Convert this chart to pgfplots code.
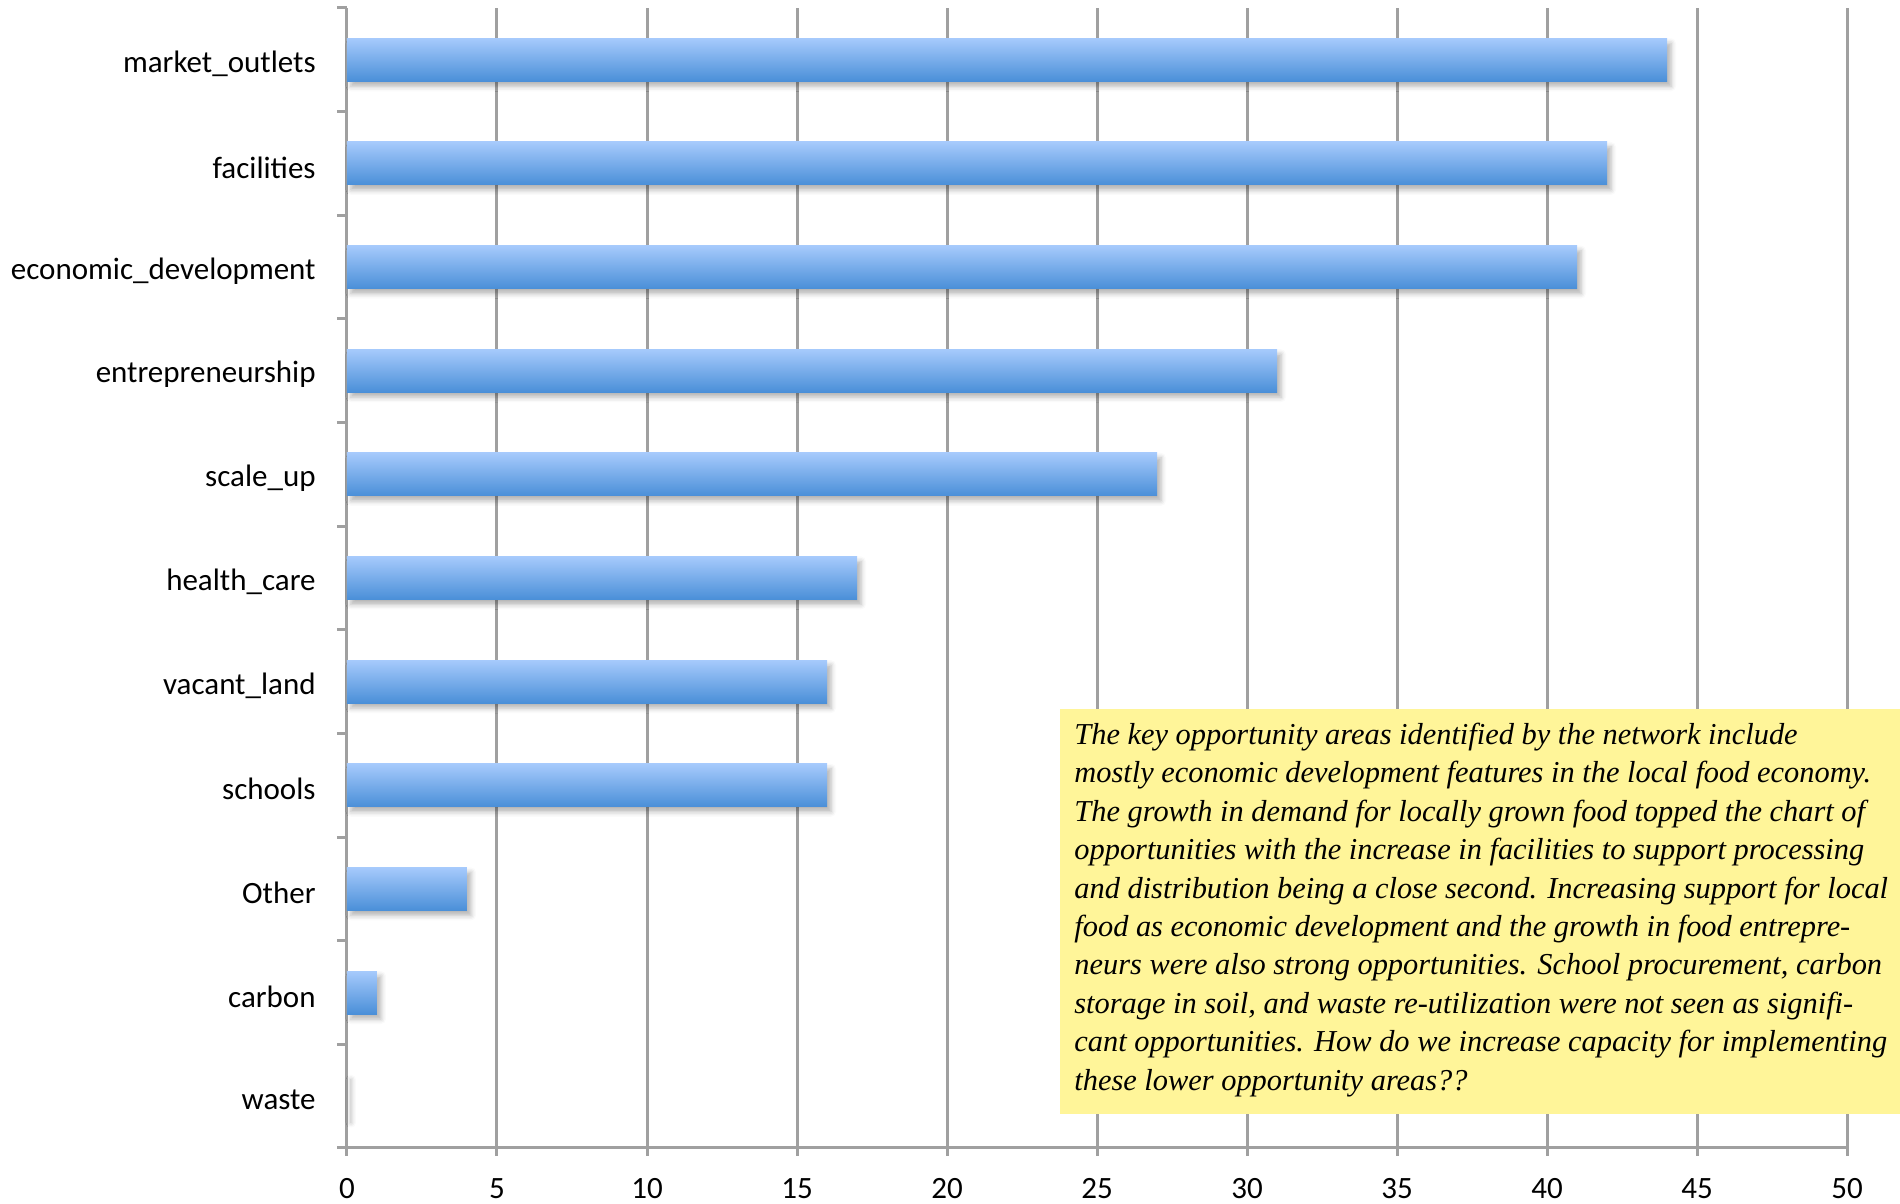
\documentclass[border=0pt]{standalone}
\usepackage{fontspec}
\setmainfont{Carlito}
\newfontfamily\boxfont{Liberation Serif}
\usepackage{pgfplots}
\pgfplotsset{compat=1.18}
\usetikzlibrary{shadows.blur}
\definecolor{gridgray}{RGB}{160,160,160}
\definecolor{bartop}{RGB}{166,202,252}
\definecolor{barbot}{RGB}{74,143,216}
\definecolor{boxyellow}{RGB}{255,245,153}
\pgfplotsset{
  mybar/.style={xbar, bar shift=0pt, bar width=21.5pt, draw=none,
    top color=bartop, bottom color=barbot,
    blur shadow={shadow xshift=2pt, shadow yshift=-2.5pt, shadow blur radius=2.5pt, shadow opacity=30}},
}
\begin{document}
\begin{tikzpicture}
\begin{axis}[
  at={(0,0)}, anchor=south west,
  scale only axis, width=750pt, height=570pt,
  xmin=0, xmax=50, ymin=-0.5, ymax=10.5,
  clip=false,
  /pgf/number format/assume math mode=true,
  axis x line*=bottom, axis y line*=left,
  axis line style={gridgray, line width=1.5pt},
  xtick={0,5,...,50},
  xmajorgrids,
  major grid style={gridgray, line width=1.5pt},
  ytick={0,...,10},
  yticklabels={waste,carbon,Other,schools,vacant\_land,health\_care,scale\_up,entrepreneurship,economic\_development,facilities,market\_outlets},
  minor ytick={-0.5,0.5,...,10.5},
  tick align=outside,
  major tick length=4pt,
  minor tick length=5pt,
  tick style={gridgray, line width=1.5pt},
  major y tick style={opacity=0},
  xticklabel style={font=\fontsize{15.5}{18}\selectfont, inner sep=0pt, anchor=north, yshift=-11pt},
  yticklabel style={font=\fontsize{15.5}{18}\selectfont, inner sep=0pt, anchor=east, xshift=-11.5pt, yshift=-2pt},
]
\addplot[mybar] coordinates {(0,0)};
\addplot[mybar] coordinates {(1,1)};
\addplot[mybar] coordinates {(4,2)};
\addplot[mybar] coordinates {(16,3)};
\addplot[mybar] coordinates {(16,4)};
\addplot[mybar] coordinates {(17,5)};
\addplot[mybar] coordinates {(27,6)};
\addplot[mybar] coordinates {(31,7)};
\addplot[mybar] coordinates {(41,8)};
\addplot[mybar] coordinates {(42,9)};
\addplot[mybar] coordinates {(44,10)};
\end{axis}
\fill[boxyellow] (356.5pt,17pt) rectangle (776.5pt,219.5pt);
\begin{scope}[every node/.style={anchor=base west, inner sep=0pt, font=\boxfont\itshape\fontsize{15.2}{19.2}\selectfont}]
\node at (363.5pt,201.7pt) {The key opportunity areas identified by the network include};
\node at (363.5pt,182.5pt) {mostly economic development features in the local food economy.};
\node at (363.5pt,163.3pt) {The growth in demand for locally grown food topped the chart of};
\node at (363.5pt,144.1pt) {opportunities with the increase in facilities to support processing};
\node at (363.5pt,124.9pt) {and distribution being a close second. Increasing support for local};
\node at (363.5pt,105.7pt) {food as economic development and the growth in food entrepre-};
\node at (363.5pt,86.5pt) {neurs were also strong opportunities. School procurement, carbon};
\node at (363.5pt,67.3pt) {storage in soil, and waste re-utilization were not seen as signifi-};
\node at (363.5pt,48.1pt) {cant opportunities. How do we increase capacity for implementing};
\node at (363.5pt,28.9pt) {these lower opportunity areas??};
\end{scope}
\pgfresetboundingbox
\path[use as bounding box] (-173.5pt,-28pt) rectangle (776.5pt,574pt);
\end{tikzpicture}
\end{document}
